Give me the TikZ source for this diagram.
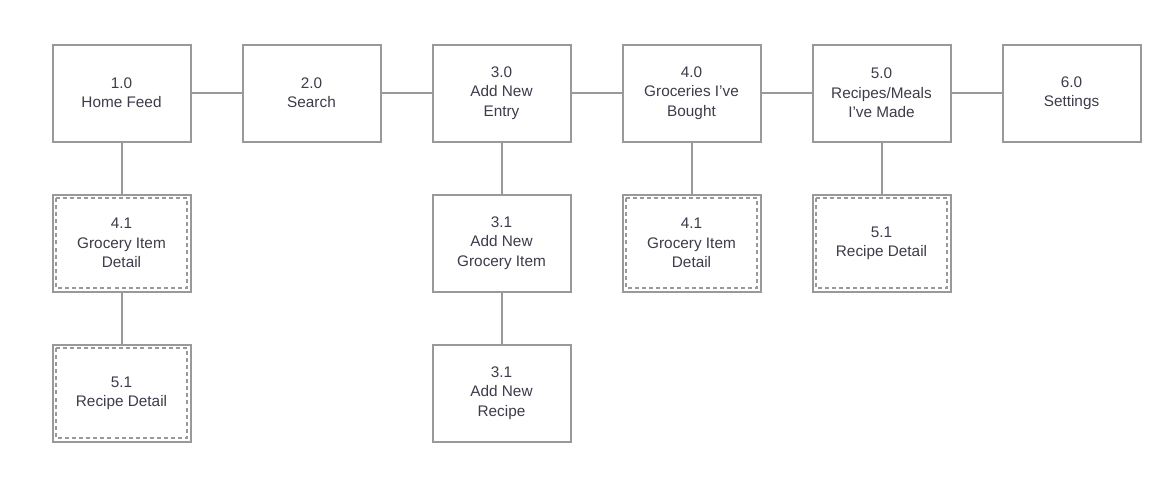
\documentclass[tikz,border=0pt]{standalone}
\usepackage{fontspec}
\setmainfont{Liberation Sans}
\definecolor{boxgray}{HTML}{999999}
\definecolor{txtgray}{HTML}{3C3C4A}
\tikzset{
  page/.style={box/.style={draw=boxgray, line width=1.5pt, fill=white,
    minimum width=103.5pt, minimum height=72.75pt, align=center,
    text=txtgray, font=\fontsize{11.5}{14.5}\selectfont}},
  link/.style={draw=boxgray, line width=1.5pt},
  inner/.style={draw=boxgray, line width=1.1pt, dash pattern=on 3pt off 2.3pt}
}
\begin{document}
\begin{tikzpicture}[x=0.75pt,y=-0.75pt,page]
\useasboundingbox (0,0) rectangle (1173,487);
% top row
\node[box] (home) at (121.5,93) {1.0\\Home Feed};
\node[box] (search) at (311.5,93) {2.0\\Search};
\node[box] (add) at (501.5,93) {3.0\\Add New\\Entry};
\node[box] (groc) at (691.5,93) {4.0\\Groceries I’ve\\Bought};
\node[box] (meals) at (881.5,93) {5.0\\Recipes/Meals\\I’ve Made};
\node[box] (set) at (1071.5,93) {6.0\\Settings};
% second row
\node[box] (itemA) at (121.5,243) {4.1\\Grocery Item\\Detail};
\node[box] (newitem) at (501.5,243) {3.1\\Add New\\Grocery Item};
\node[box] (itemB) at (691.5,243) {4.1\\Grocery Item\\Detail};
\node[box] (recB) at (881.5,243) {5.1\\Recipe Detail};
% third row
\node[box] (recA) at (121.5,393) {5.1\\Recipe Detail};
\node[box] (newrec) at (501.5,393) {3.1\\Add New\\Recipe};
% links
\draw[link] (home) -- (search);
\draw[link] (search) -- (add);
\draw[link] (add) -- (groc);
\draw[link] (groc) -- (meals);
\draw[link] (meals) -- (set);
\draw[link] (home) -- (itemA);
\draw[link] (itemA) -- (recA);
\draw[link] (add) -- (newitem);
\draw[link] (newitem) -- (newrec);
\draw[link] (groc) -- (itemB);
\draw[link] (meals) -- (recB);
% dashed inner frames
\foreach \n in {itemA,itemB,recA,recB}
  \draw[inner] ([shift={(3.4pt,-3.4pt)}]\n.north west) rectangle ([shift={(-3.4pt,3.4pt)}]\n.south east);
\end{tikzpicture}
\end{document}
